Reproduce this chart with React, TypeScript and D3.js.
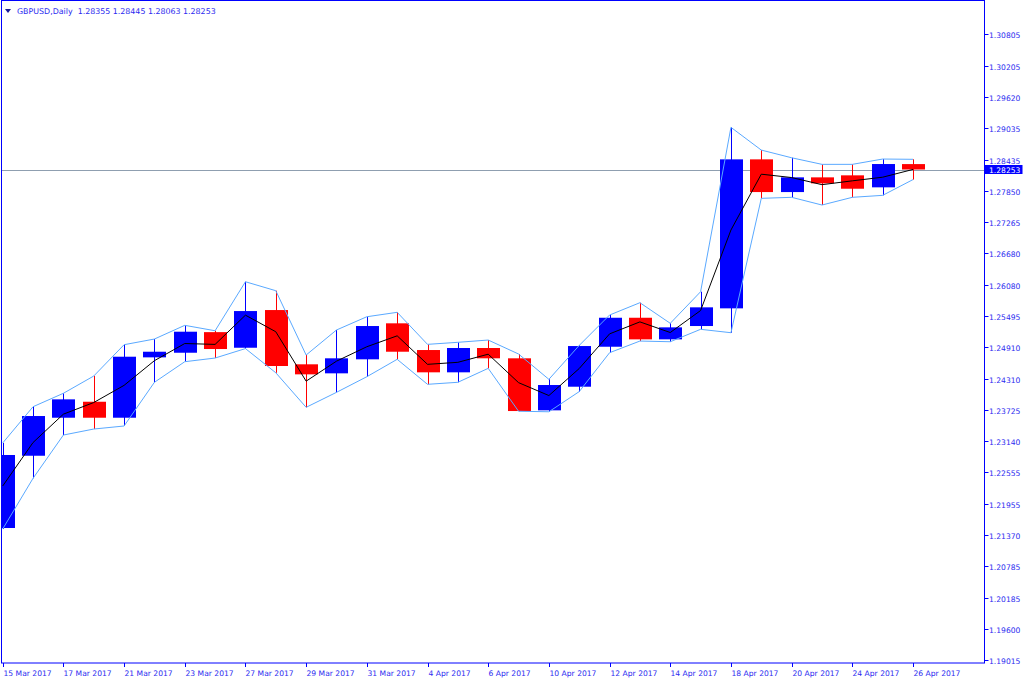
import React from "react";
import * as d3 from "d3";

const dates = [
  "15 Mar 2017", "16 Mar 2017", "17 Mar 2017", "20 Mar 2017", "21 Mar 2017", "22 Mar 2017",
  "23 Mar 2017", "24 Mar 2017", "27 Mar 2017", "28 Mar 2017", "29 Mar 2017", "30 Mar 2017",
  "31 Mar 2017", "3 Apr 2017", "4 Apr 2017", "5 Apr 2017", "6 Apr 2017", "7 Apr 2017",
  "10 Apr 2017", "11 Apr 2017", "12 Apr 2017", "13 Apr 2017", "14 Apr 2017", "17 Apr 2017",
  "18 Apr 2017", "19 Apr 2017", "20 Apr 2017", "21 Apr 2017", "24 Apr 2017", "25 Apr 2017",
  "26 Apr 2017",
];

const opens = [
  1.21501, 1.22862, 1.23578, 1.23879, 1.23578, 1.24715, 1.24802, 1.2519, 1.24896, 1.25606,
  1.24584, 1.24414, 1.24678, 1.25356, 1.24853, 1.24433, 1.24891, 1.24697, 1.23717, 1.24162,
  1.24915, 1.25461, 1.25054, 1.25305, 1.25638, 1.28444, 1.27828, 1.28105, 1.28143, 1.27917,
  1.28355,
];
const highs = [
  1.23102, 1.23785, 1.24038, 1.24363, 1.24953, 1.2506, 1.25318, 1.25216, 1.26139, 1.2597,
  1.24759, 1.2523, 1.2548, 1.25563, 1.2496, 1.24998, 1.25041, 1.24778, 1.24301, 1.2494,
  1.25512, 1.25744, 1.25356, 1.25951, 1.29047, 1.28619, 1.28474, 1.2835, 1.2835, 1.2845,
  1.28445,
];
const lows = [
  1.21482, 1.22437, 1.23252, 1.23365, 1.23422, 1.24245, 1.24633, 1.24702, 1.2488, 1.24425,
  1.23774, 1.24056, 1.2435, 1.24678, 1.24207, 1.24245, 1.24508, 1.237, 1.2369, 1.2407,
  1.24802, 1.25022, 1.25009, 1.25243, 1.25179, 1.2771, 1.27729, 1.27584, 1.27729, 1.27766,
  1.28063,
];
const closes = [
  1.22876, 1.2361, 1.23924, 1.23578, 1.24727, 1.24821, 1.25198, 1.24872, 1.25587, 1.24552,
  1.24395, 1.24697, 1.25305, 1.24821, 1.24433, 1.24891, 1.24697, 1.23704, 1.24194, 1.24928,
  1.25461, 1.25054, 1.2528, 1.25657, 1.28444, 1.27828, 1.28105, 1.27992, 1.27891, 1.28356,
  1.28253,
];

const priceTicks = [
  "1.30805", "1.30205", "1.29620", "1.29035", "1.28435", "1.27850", "1.27265", "1.26680",
  "1.26080", "1.25495", "1.24910", "1.24310", "1.23725", "1.23140", "1.22555", "1.21955",
  "1.21370", "1.20785", "1.20185", "1.19600", "1.19015",
];
const lastPrice = 1.28253;
const titleText = "GBPUSD,Daily\u00a0\u00a01.28355 1.28445 1.28063 1.28253";

const W = 1024;
const H = 683;
const plotLeft = 1;
const plotTop = 1;
const plotRight = 984;
const plotBottom = 663;

const BLUE = "#0000ff";
const RED = "#ff0000";
const ENV = "#5aa9ff";
const TXT = "#2b2bf0";
const FONT = "DejaVu Sans, Tahoma, sans-serif";

export default function App() {
  const n = dates.length;
  const x = d3.scaleLinear().domain([0, n - 1]).range([2.7, 913]);
  const y = d3.scaleLinear().domain([1.19015, 1.30805]).range([660, 34]);
  const bodyW = 23;

  const idx = d3.range(n);
  const highLine = d3.line<number>().x((i) => x(i)).y((i) => y(highs[i]));
  const lowLine = d3.line<number>().x((i) => x(i)).y((i) => y(lows[i]));
  const midLine = d3.line<number>().x((i) => x(i)).y((i) => y((highs[i] + lows[i]) / 2));

  return (
    <svg
      width={W}
      height={H}
      style={{ position: "fixed", left: 0, top: 0, background: "#fff" }}
      fontFamily={FONT}
    >
      <defs>
        <clipPath id="plotClip">
          <rect x={plotLeft} y={plotTop} width={plotRight - plotLeft} height={plotBottom - plotTop} />
        </clipPath>
      </defs>
      <rect x={0} y={0} width={W} height={H} fill="#fff" />

      {/* current price line */}
      <line
        x1={plotLeft}
        x2={plotRight}
        y1={Math.round(y(lastPrice)) + 0.5}
        y2={Math.round(y(lastPrice)) + 0.5}
        stroke="#8f9fb0"
        strokeWidth={1}
      />

      <g clipPath="url(#plotClip)">
        {idx.map((i) => {
          const up = closes[i] >= opens[i];
          const col = up ? BLUE : RED;
          const cx = Math.round(x(i)) + 0.5;
          const top = y(Math.max(opens[i], closes[i]));
          const bot = y(Math.min(opens[i], closes[i]));
          return (
            <g key={i}>
              <line x1={cx} x2={cx} y1={y(highs[i])} y2={y(lows[i])} stroke={col} strokeWidth={1} />
              <rect
                x={cx - bodyW / 2}
                y={top}
                width={bodyW}
                height={Math.max(1, bot - top)}
                fill={col}
              />
            </g>
          );
        })}
        <path d={highLine(idx) || ""} fill="none" stroke={ENV} strokeWidth={1} />
        <path d={lowLine(idx) || ""} fill="none" stroke={ENV} strokeWidth={1} />
        <path d={midLine(idx) || ""} fill="none" stroke="#000" strokeWidth={1} />
      </g>

      {/* frame */}
      <rect
        x={plotLeft + 0.5}
        y={plotTop - 0.5}
        width={plotRight - plotLeft}
        height={plotBottom - plotTop + 0.5}
        fill="none"
        stroke={BLUE}
        strokeWidth={1}
      />

      {/* price axis */}
      {priceTicks.map((t) => {
        const py = Math.round(y(+t)) + 0.5;
        return (
          <g key={t}>
            <line x1={plotRight + 0.5} x2={plotRight + 4.5} y1={py} y2={py} stroke={BLUE} />
            <text x={plotRight + 5} y={py + 3} fontSize={7.6} fill={TXT}>
              {t}
            </text>
          </g>
        );
      })}
      <rect x={plotRight + 0.5} y={y(lastPrice) - 4.5} width={38} height={9} fill={BLUE} />
      <text x={plotRight + 5} y={y(lastPrice) + 3} fontSize={7.6} fill="#fff">
        {lastPrice.toFixed(5)}
      </text>

      {/* time axis */}
      {idx
        .filter((i) => i % 2 === 0)
        .map((i) => {
          const tx = Math.round(x(i)) + 0.5;
          return (
            <g key={dates[i]}>
              <line x1={tx} x2={tx} y1={plotBottom} y2={plotBottom + 4} stroke={BLUE} />
              <text x={tx} y={676} fontSize={7.6} fill={TXT}>
                {dates[i]}
              </text>
            </g>
          );
        })}

      {/* title */}
      <path d="M5,9 L11,9 L8,13 Z" fill="#1a1a99" />
      <text x={17} y={13.5} fontSize={7.9} fill={TXT}>
        {titleText}
      </text>
    </svg>
  );
}
